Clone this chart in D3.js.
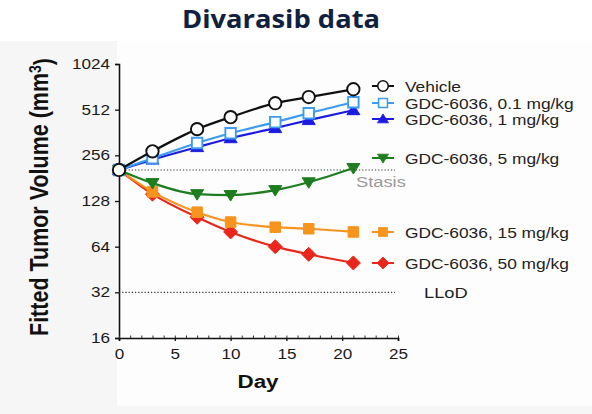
<!DOCTYPE html>
<html>
<head>
<meta charset="utf-8">
<script src="https://cdn.jsdelivr.net/npm/d3@7"></script>
<style>
  body { margin: 0; background: #fff; }
  svg { display: block; font-family: "Liberation Sans", Arial, sans-serif; }
</style>
</head>
<body>
<div id="chart"></div>
<script>
// days and fitted volumes
var days = [0, 3, 7, 10, 14, 17, 21];
var vehicle = [205, 272, 381, 457, 565, 620, 698];
var dose01 = [205, 245, 309, 358, 424, 485, 573];
var dose1 = [205, 240, 290, 332, 387, 437, 508];
var dose5 = [205, 168, 142, 140, 151, 170, 211];
var dose15 = [205, 147, 108, 93, 86, 84, 80];
var dose50 = [205, 142, 100, 80, 64, 57, 50];

var yTicks = [16, 32, 64, 128, 256, 512, 1024];
var xTicks = [0, 5, 10, 15, 20, 25];
var stasisLevel = 205;
var llodLevel = 32;

var width = 592, height = 414;
var stretch = 1.18; // the source picture is a little wider than tall

var svg = d3.select("#chart").append("svg")
    .attr("width", width)
    .attr("height", height);

// faint slide background
svg.append("rect").attr("x", 0).attr("y", 41).attr("width", width).attr("height", height - 41).attr("fill", "#f6f6f6");
svg.append("rect").attr("x", 117).attr("y", 41).attr("width", width - 117).attr("height", 365).attr("fill", "#fdfdfd");

svg.append("text")
    .attr("x", 182).attr("y", 28)
    .attr("textLength", 198).attr("lengthAdjust", "spacingAndGlyphs")
    .style("font-family", "'Open Sans', sans-serif")
    .style("font-weight", 700)
    .style("font-size", "25px")
    .style("fill", "#10213f")
    .text("Divarasib data");

var x = d3.scaleLinear().domain([0, 25]).range([119, 398]);
var y = d3.scaleLog().base(2).domain([16, 1024]).range([338, 64]);

function stretchTicks(g, size) {
    g.selectAll(".tick text").each(function() {
        var t = d3.select(this);
        var tx = +t.attr("x") || 0, ty = +t.attr("y") || 0;
        t.attr("x", 0).attr("y", 0)
            .attr("transform", "translate(" + tx + "," + ty + ") scale(" + stretch + ",1)")
            .style("font-size", size + "px")
            .attr("fill", "#1a1a1a");
    });
}

// y axis
var gy = svg.append("g")
    .attr("transform", "translate(119,0)")
    .call(d3.axisLeft(y).tickValues(yTicks).tickFormat(d3.format("d")).tickSize(4).tickPadding(5));
gy.select(".domain").attr("stroke", "#111").attr("stroke-width", 1.6);
gy.selectAll(".tick line").attr("stroke", "#111").attr("stroke-width", 1.3);
stretchTicks(gy, 14.5);

// x axis, minor ticks every day
var gxMinor = svg.append("g")
    .attr("transform", "translate(0,338)")
    .call(d3.axisBottom(x).tickValues(d3.range(0, 26)).tickSize(-2.5).tickFormat(""));
gxMinor.select(".domain").remove();
gxMinor.selectAll(".tick line").attr("stroke", "#333");

var gx = svg.append("g")
    .attr("transform", "translate(0,338)")
    .call(d3.axisBottom(x).tickValues(xTicks).tickSize(3).tickPadding(8));
gx.select(".domain").attr("stroke", "#111").attr("stroke-width", 1.6);
gx.selectAll(".tick line").attr("stroke", "#111").attr("stroke-width", 1.3);
stretchTicks(gx, 14.5);

// axis titles
svg.append("text")
    .attr("transform", "translate(258,388) scale(" + stretch + ",1)")
    .attr("text-anchor", "middle")
    .style("font-weight", 700)
    .style("font-size", "19px")
    .attr("fill", "#111")
    .text("Day");

var yTitle = svg.append("text")
    .attr("transform", "translate(48,197) scale(" + stretch + ",1) rotate(-90)")
    .attr("text-anchor", "middle")
    .style("font-weight", 700)
    .style("font-size", "21.5px")
    .attr("fill", "#111");
yTitle.append("tspan").text("Fitted Tumor Volume (mm");
yTitle.append("tspan").attr("dy", "-0.45em").style("font-size", "14px").text("3");
yTitle.append("tspan").attr("dy", "0.45em").text(")");

// reference lines
function refLine(level, x2) {
    svg.append("line")
        .attr("x1", x(0)).attr("x2", x2)
        .attr("y1", y(level)).attr("y2", y(level))
        .attr("stroke", "#333").attr("stroke-width", 1.1)
        .attr("stroke-dasharray", "1.2,2");
}
refLine(stasisLevel, 395);
refLine(llodLevel, 395);

svg.append("text")
    .attr("transform", "translate(356," + (y(stasisLevel) + 17) + ") scale(" + stretch + ",1)")
    .style("font-size", "15.5px").attr("fill", "#9a9a9a")
    .text("Stasis");
svg.append("text")
    .attr("transform", "translate(424," + (y(llodLevel) + 5.5) + ") scale(" + stretch + ",1)")
    .style("font-size", "15.5px").attr("fill", "#222")
    .text("LLoD");

var series = [
    { name: "GDC-6036, 50 mg/kg", values: dose50, color: "#e8261c", shape: "diamond", fill: "#e8261c", ly: 263 },
    { name: "GDC-6036, 15 mg/kg", values: dose15, color: "#f7941d", shape: "square", fill: "#f7941d", ly: 232 },
    { name: "GDC-6036, 5 mg/kg", values: dose5, color: "#1e7d1e", shape: "down", fill: "#1e7d1e", ly: 158 },
    { name: "GDC-6036, 1 mg/kg", values: dose1, color: "#1c1ce0", shape: "up", fill: "#1c1ce0", ly: 119 },
    { name: "GDC-6036, 0.1 mg/kg", values: dose01, color: "#3c9cf0", shape: "square", fill: "#fff", ly: 103 },
    { name: "Vehicle", values: vehicle, color: "#111", shape: "circle", fill: "#fff", ly: 86 }
];

function markerPath(shape) {
    if (shape === "circle") return d3.symbol(d3.symbolCircle, 120)();
    if (shape === "square") return d3.symbol(d3.symbolSquare, 110)();
    if (shape === "diamond") return "M0,-7L7,0L0,7L-7,0Z";
    if (shape === "up") return "M0,-6L6.5,4.5L-6.5,4.5Z";
    return "M0,6L6.5,-4.5L-6.5,-4.5Z";
}

var line = d3.line()
    .x(function(d, i) { return x(days[i]); })
    .y(function(d) { return y(d); })
    .curve(d3.curveMonotoneX);

series.forEach(function(s) {
    var g = svg.append("g");
    g.append("path")
        .attr("d", line(s.values))
        .attr("fill", "none")
        .attr("stroke", s.color)
        .attr("stroke-width", 2.2);
    g.selectAll(".pt")
        .data(s.values)
        .enter().append("path")
        .attr("class", "pt")
        .attr("transform", function(d, i) { return "translate(" + x(days[i]) + "," + y(d) + ")"; })
        .attr("d", markerPath(s.shape))
        .attr("fill", s.fill)
        .attr("stroke", s.color)
        .attr("stroke-width", s.fill === "#fff" ? 1.9 : 1);

    // legend entry
    var lg = svg.append("g").attr("transform", "translate(383," + s.ly + ")");
    lg.append("line").attr("x1", -11).attr("x2", 11)
        .attr("stroke", s.color).attr("stroke-width", 2);
    lg.append("path").attr("d", markerPath(s.shape))
        .attr("transform", "scale(0.85)")
        .attr("fill", s.fill).attr("stroke", s.color)
        .attr("stroke-width", s.fill === "#fff" ? 1.8 : 1);
    lg.append("text")
        .attr("transform", "translate(22,5.5) scale(" + (stretch - 0.06) + ",1)")
        .style("font-size", "15.5px")
        .attr("fill", "#222")
        .text(s.name);
});
</script>
</body>
</html>
